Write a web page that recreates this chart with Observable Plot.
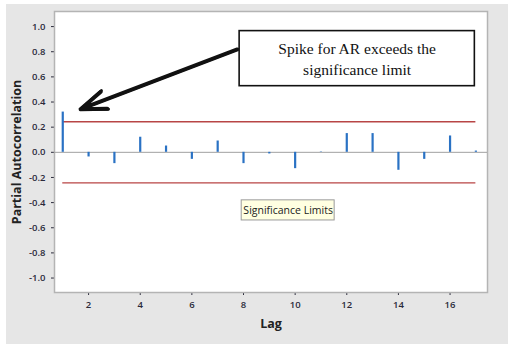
<!DOCTYPE html>
<html>
<head>
<meta charset="utf-8">
<script src="https://cdn.jsdelivr.net/npm/d3@7"></script>
<script src="https://cdn.jsdelivr.net/npm/@observablehq/plot@0.6"></script>
<style>
  html, body { margin: 0; padding: 0; background: #ffffff; }
  #chart { position: absolute; left: 6px; top: 4px; width: 502px; height: 340px; background: #e6e6e6; }
  #chart svg { background: #e6e6e6; display: block; }
  #chart svg [aria-label="y-axis label"] text,
  #chart svg [aria-label="x-axis label"] text { font-weight: bold; font-size: 12.5px; fill: #222; }
  #chart svg [aria-label="y-axis tick label"] text,
  #chart svg [aria-label="x-axis tick label"] text { fill: #2a2a3a; font-weight: 600; }
</style>
</head>
<body>
<div id="chart"></div>
<script>
// ---- data ----
const lags = [1, 2, 3, 4, 5, 6, 7, 8, 9, 10, 11, 12, 13, 14, 15, 16, 17];
const pacf = [0.32, -0.037, -0.09, 0.12, 0.05, -0.056, 0.09, -0.09, -0.013, -0.13, 0.003, 0.149, 0.149, -0.143, -0.056, 0.13, 0.01];
const significanceLimit = 0.243;
const yTicks = [-1.0, -0.8, -0.6, -0.4, -0.2, 0.0, 0.2, 0.4, 0.6, 0.8, 1.0];
const xTicks = [2, 4, 6, 8, 10, 12, 14, 16];
const calloutLines = ["Spike for AR exceeds the", "significance limit"];
const calloutBox = {x1: 7.85, x2: 16.96, y1: 0.526, y2: 0.964};
const calloutTextPos = {x: 12.4, y: [0.82, 0.655]};
const calloutArrow = {x1: 7.76, y1: 0.818, x2: 1.69, y2: 0.343};
const tooltipLabel = "Significance Limits";
const tooltipBox = {x1: 7.93, x2: 11.53, y1: -0.542, y2: -0.382};

const rows = lags.map((lag, i) => ({lag, value: pacf[i]}));
const limits = [significanceLimit, -significanceLimit];

const chart = Plot.plot({
  width: 502,
  height: 340,
  marginLeft: 48,
  marginTop: 7,
  marginRight: 21,
  marginBottom: 52,
  style: {fontFamily: "'Open Sans', 'Noto Sans', sans-serif", fontSize: "9.5px", color: "#2b2b3b", background: "#e6e6e6"},
  x: {domain: [0.68, 17.45], ticks: xTicks, tickSize: 3, label: "Lag", labelAnchor: "center", labelArrow: false, labelOffset: 35},
  y: {domain: [-1.115, 1.12], ticks: yTicks, tickSize: 3, tickFormat: d => d.toFixed(1), label: "Partial Autocorrelation", labelAnchor: "center", labelArrow: false, labelOffset: 42},
  marks: [
    Plot.frame({fill: "white", stroke: "#b4b4b4", strokeWidth: 1.5}),
    Plot.ruleY([0], {stroke: "#a0a0a0", strokeWidth: 1}),
    Plot.ruleY(limits, {x1: lags[0], x2: lags[lags.length - 1], stroke: "#b84545", strokeWidth: 1.3}),
    Plot.ruleX(rows, {x: "lag", y1: 0, y2: "value", stroke: "#2a72c4", strokeWidth: 2.2}),
    Plot.rect([calloutBox], {x1: "x1", x2: "x2", y1: "y1", y2: "y2", fill: "white", stroke: "#111", strokeWidth: 1.6}),
    Plot.text(calloutLines, {x: calloutTextPos.x, y: (d, i) => calloutTextPos.y[i], text: d => d, fontFamily: "'Liberation Serif', serif", fontSize: 15.5, fill: "#111"}),
    Plot.arrow([calloutArrow], {x1: "x1", y1: "y1", x2: "x2", y2: "y2", stroke: "#111", strokeWidth: 2.8, headLength: 15, headAngle: 42, bend: 0}),
    Plot.arrow([calloutArrow], {x1: "x1", y1: "y1", x2: "x2", y2: "y2", stroke: "#111", strokeWidth: 4, headLength: 10, headAngle: 40, bend: 0}),
    Plot.rect([tooltipBox], {x1: "x1", x2: "x2", y1: "y1", y2: "y2", fill: "#ffffe1", stroke: "#9a9a9a", strokeWidth: 1}),
    Plot.text([tooltipLabel], {x: (tooltipBox.x1 + tooltipBox.x2) / 2, y: (tooltipBox.y1 + tooltipBox.y2) / 2, text: d => d, fontFamily: "'Open Sans', 'Noto Sans', sans-serif", fontSize: 10.5, fill: "#222"})
  ]
});
document.getElementById("chart").append(chart);
</script>
</body>
</html>
